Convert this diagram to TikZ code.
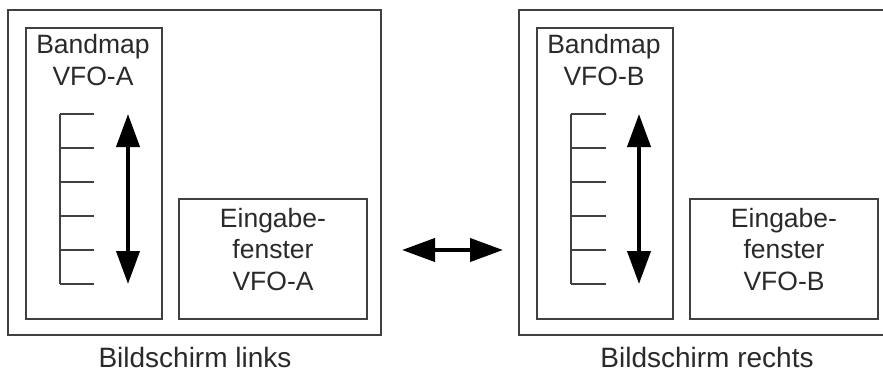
\documentclass[tikz,border=0pt]{standalone}
\usepackage{fontspec}
\setmainfont{Liberation Sans}
\usetikzlibrary{arrows.meta}
\definecolor{boxgray}{HTML}{404040}
\definecolor{txtgray}{HTML}{2A2A2A}
\tikzset{
  outerbox/.style={draw=boxgray, line width=2pt},
  innerbox/.style={draw=boxgray, line width=1.6pt},
  tickline/.style={draw=boxgray, line width=1.5pt},
  bigarrow/.style={draw=black, line width=4pt, {Triangle[length=33pt,width=23pt]}-{Triangle[length=33pt,width=23pt]}},
  lbl/.style={text=txtgray, font=\fontsize{26.5}{32}\selectfont, align=center, inner sep=0pt},
  caplbl/.style={lbl, font=\fontsize{28}{32}\selectfont},
}
\begin{document}
\begin{tikzpicture}[x=1pt,y=-1pt]
\useasboundingbox (0,0) rectangle (883,372);
\clip (0,0) rectangle (883,372);
\fill[white] (0,0) rectangle (883,372);

% ---------- left screen ----------
\draw[outerbox] (8,10) rectangle (381,335);
\draw[innerbox] (26,28) rectangle (162,319);
\node[lbl, anchor=base] (bmA1) at (93,53) {Bandmap};
\node[lbl, anchor=base] (bmA2) at (93,85) {VFO-A};
% scale ticks
\coordinate (tA0) at (60,114);
\coordinate (tA1) at (60,284);
\draw[tickline] (tA0) -- (tA1);
\foreach \yy in {114,148,182,216,250,284}{
  \draw[tickline] (60,\yy) -- (94,\yy);
}
\coordinate (aA1) at (128,114);
\coordinate (aA2) at (128,284);
\draw[bigarrow] (aA1) -- (aA2);
\draw[innerbox] (179,199) rectangle (367,319);
\node[lbl, anchor=base] (egA1) at (273,227) {Eingabe-};
\node[lbl, anchor=base] (egA2) at (273,258) {fenster};
\node[lbl, anchor=base] (egA3) at (273,290) {VFO-A};
\node[caplbl, anchor=base] (capA) at (195,367) {Bildschirm links};

% ---------- middle arrow ----------
\coordinate (mL) at (402,250);
\coordinate (mR) at (503,250);
\draw[bigarrow] (mL) -- (mR);

% ---------- right screen ----------
\draw[outerbox] (519,10) rectangle (890,335);
\draw[innerbox] (537,28) rectangle (673,319);
\node[lbl, anchor=base] (bmB1) at (604,53) {Bandmap};
\node[lbl, anchor=base] (bmB2) at (604,85) {VFO-B};
\coordinate (tB0) at (571,114);
\coordinate (tB1) at (571,284);
\draw[tickline] (tB0) -- (tB1);
\foreach \yy in {114,148,182,216,250,284}{
  \draw[tickline] (571,\yy) -- (606,\yy);
}
\coordinate (aB1) at (639,114);
\coordinate (aB2) at (639,284);
\draw[bigarrow] (aB1) -- (aB2);
\draw[innerbox] (690,199) rectangle (878,319);
\node[lbl, anchor=base] (egB1) at (784,227) {Eingabe-};
\node[lbl, anchor=base] (egB2) at (784,258) {fenster};
\node[lbl, anchor=base] (egB3) at (784,290) {VFO-B};
\node[caplbl, anchor=base] (capB) at (707,367) {Bildschirm rechts};
\end{tikzpicture}
\end{document}
